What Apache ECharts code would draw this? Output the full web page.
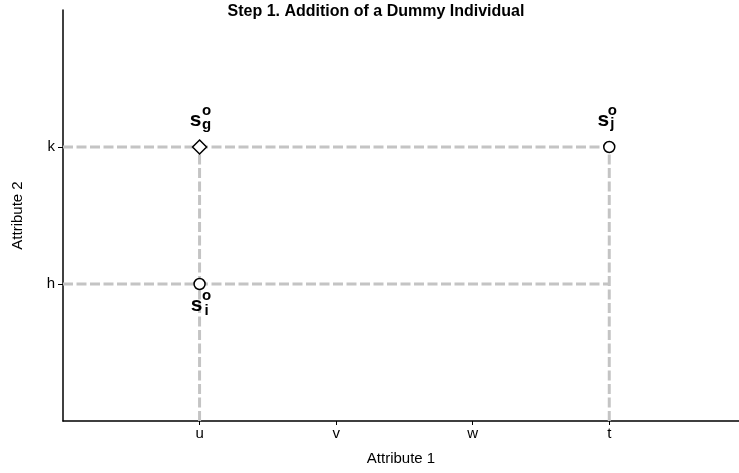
<!DOCTYPE html>
<html>
<head>
<meta charset="utf-8">
<script src="https://cdn.jsdelivr.net/npm/echarts@6/dist/echarts.min.js"></script>
<style>
  html, body { margin: 0; padding: 0; background: #fff; }
  #chart { width: 739px; height: 473px; }
</style>
</head>
<body>
<div id="chart"></div>
<script>
// tick positions + labels
var xTickValues = [1, 2, 3, 4];
var xTickLabels = ["u", "v", "w", "t"];
var yTickValues = [1, 2];
var yTickLabels = ["h", "k"];

// the three individuals s_g, s_i, s_j
var pointX = [1, 1, 4];
var pointY = [2, 1, 2];
var pointSub = ["g", "i", "j"];

// dashed guide lines
var hLineY = [2, 1];
var hLineX = [0, 4];
var vLineX = [1, 4];
var vLineY = [0, 2];

var font = "Liberation Sans, Arial, Helvetica, sans-serif";
var gray = "#c4c4c4";

// label offsets (s, superscript o, subscript) for each point
var sOffset = [[-4, -27], [-3, 21], [-6, -27]];
var supOffset = [[7, -36], [7, 12], [3, -36]];
var subOffset = [[7, -22], [7, 27], [3, -23]];
var symbols = ["diamond", "circle", "circle"];

var myChart = echarts.init(document.getElementById("chart"));

var series = [];

// horizontal dashes
hLineY.forEach(function (y) {
  series.push({
    type: "line",
    data: [[hLineX[0], y], [hLineX[1], y]],
    symbol: "none",
    silent: true,
    lineStyle: { color: gray, width: 3, type: [10, 3.5] }
  });
});
// vertical dashes
vLineX.forEach(function (x) {
  series.push({
    type: "line",
    data: [[x, vLineY[0]], [x, vLineY[1]]],
    symbol: "none",
    silent: true,
    lineStyle: { color: gray, width: 3, type: [10, 3.5] }
  });
});

// markers
series.push({
  type: "scatter",
  z: 5,
  data: pointX.map(function (x, i) {
    return {
      value: [x, pointY[i]],
      symbol: symbols[i],
      symbolSize: symbols[i] === "diamond" ? 14 : 11
    };
  }),
  itemStyle: { color: "#fff", borderColor: "#000", borderWidth: 1.5, opacity: 1 }
});

function labelSeries(texts, offsets, size) {
  return {
    type: "scatter",
    z: 6,
    symbolSize: 0,
    silent: true,
    itemStyle: { opacity: 1 },
    data: pointX.map(function (x, i) {
      return {
        value: [x, pointY[i]],
        label: { offset: offsets[i], formatter: texts[i] }
      };
    }),
    label: {
      show: true,
      position: "inside",
      color: "#000",
      opacity: 1,
      fontFamily: font,
      fontWeight: "bold",
      fontSize: size
    }
  };
}
series.push(labelSeries(["s", "s", "s"], sOffset, 21));
series.push(labelSeries(["o", "o", "o"], supOffset, 15));
series.push(labelSeries(pointSub, subOffset, 15));

var option = {
  animation: false,
  title: {
    text: "Step 1. Addition of a Dummy Individual",
    left: 376,
    textAlign: "center",
    top: 4,
    padding: 0,
    textStyle: { fontFamily: font, fontWeight: "bold", fontSize: 16, color: "#000" }
  },
  grid: { left: 63, right: 0, top: 10, bottom: 52 },
  xAxis: {
    type: "value",
    min: 0,
    max: 4.95,
    name: "Attribute 1",
    nameLocation: "middle",
    nameGap: 30,
    nameTextStyle: { fontFamily: font, fontSize: 15, color: "#000" },
    splitLine: { show: false },
    axisLine: { lineStyle: { color: "#000", width: 1.5 } },
    axisTick: { customValues: xTickValues, length: 4, lineStyle: { color: "#000" } },
    axisLabel: {
      customValues: xTickValues,
      margin: 5,
      color: "#000",
      fontFamily: font,
      fontSize: 15,
      formatter: function (v) { return xTickLabels[xTickValues.indexOf(v)]; }
    }
  },
  yAxis: {
    type: "value",
    min: 0,
    max: 3,
    name: "Attribute 2",
    nameLocation: "middle",
    nameGap: 38,
    nameTextStyle: { fontFamily: font, fontSize: 15, color: "#000" },
    splitLine: { show: false },
    axisLine: { show: true, lineStyle: { color: "#000", width: 1.5 } },
    axisTick: { show: true, customValues: yTickValues, length: 5, lineStyle: { color: "#000" } },
    axisLabel: {
      customValues: yTickValues,
      margin: 8,
      color: "#000",
      fontFamily: font,
      fontSize: 15,
      formatter: function (v) { return yTickLabels[yTickValues.indexOf(v)]; }
    }
  },
  series: series
};

myChart.setOption(option);
</script>
</body>
</html>
